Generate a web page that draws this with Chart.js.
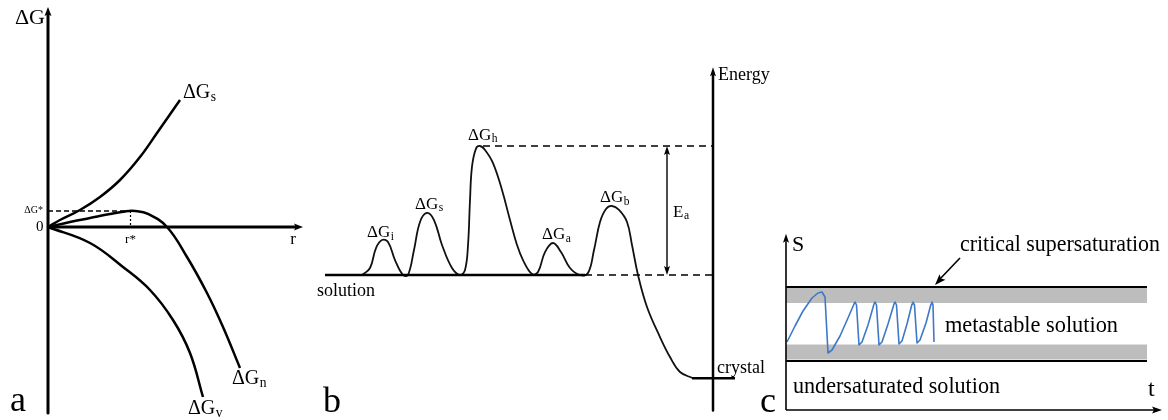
<!DOCTYPE html>
<html><head><meta charset="utf-8">
<script src="https://cdn.jsdelivr.net/npm/chart.js@4"></script>
<style>
html,body{margin:0;padding:0;background:#fff;width:1168px;height:420px;overflow:hidden}
canvas{position:absolute;top:0}
</style></head><body>
<canvas id="ca" width="310" height="420" style="left:0"></canvas>
<canvas id="cb" width="480" height="420" style="left:300px"></canvas>
<canvas id="cc" width="413" height="420" style="left:755px"></canvas>
<script>
// ---------- Panel a: free energy vs radius ----------
const aR_s = [0, 0.48, 1.28, 2.08, 2.88, 3.68, 4.36, 5.28];
const aG_s = [0, 0.35, 0.85, 1.5, 2.35, 3.5, 4.7, 6.35];
const aR_n = [0, 0.88, 1.68, 2.48, 3.08, 3.48, 4.0, 4.76, 5.56, 6.36, 7.0, 7.68];
const aG_n = [0, 0.25, 0.45, 0.65, 0.78, 0.8, 0.66, 0, -1.5, -3.3, -5.0, -7.05];
const aR_v = [0, 1.68, 3.0, 4.08, 5.0, 5.68, 6.2];
const aG_v = [0, -0.8, -2.0, -3.15, -4.65, -6.3, -8.5];
const aCrit = {r: 3.3, g: 0.8};

// ---------- Panel b: energy profile ----------
const bX = [6.2, 7.0, 7.6, 8.2, 8.8, 9.5, 10.3,
  10.8, 11.4, 12.0, 12.7, 13.4, 14.2, 15.2, 16.0,
  16.5, 16.8, 17.0, 17.2, 17.6, 18.0, 18.5, 19.3, 20.2, 21.0, 21.7, 22.3, 23.2,
  23.8, 24.5, 25.3, 26.1, 27.0, 28.0,
  28.8, 29.4, 30.0, 30.6, 31.2, 31.9, 32.7, 33.2, 33.8, 34.7, 36.0, 37.0, 38.0, 39.3];
const bE = [0, 0.54, 2.09, 2.71, 2.56, 1.16, 0,
  0, 1.94, 4.11, 4.81, 4.26, 2.33, 0.54, 0,
  0.39, 2.3, 5.8, 8.4, 9.8, 10.0, 9.69, 8.68, 6.59, 4.26, 2.33, 1.16, 0.08,
  0.23, 1.78, 2.48, 1.78, 0.54, 0,
  0.16, 1.94, 4.11, 5.12, 5.35, 5.04, 4.11, 2.33, 0, -2.48, -4.81, -6.36, -7.52, -8.0];
const bSolution = 0, bTop = 10, bCrystal = -8.0;
const bLabels = ['i', 's', 'h', 'a', 'b'];

// ---------- Panel c: supersaturation vs time ----------
const cT = [0.1, 0.9, 1.7, 2.6, 3.2, 3.6, 3.9, 4.2, 4.6, 5.4, 6.2, 6.8, 6.9, 7.05, 7.3, 7.6, 8.2, 8.8, 8.9, 9.05, 9.3, 9.6,
  10.2, 10.8, 10.9, 11.05, 11.3, 11.6, 12.1, 12.6, 12.7, 12.85, 13.1, 13.4, 14.0, 14.5, 14.6, 14.7, 14.8];
const cS = [2.72, 3.36, 3.96, 4.48, 4.68, 4.72, 4.52, 2.28, 2.4, 2.96, 3.68, 4.24, 4.32, 4.2, 2.6, 2.72, 3.4, 4.24, 4.32, 4.2, 2.6, 2.72,
  3.44, 4.24, 4.32, 4.2, 2.64, 2.76, 3.44, 4.24, 4.32, 4.2, 2.68, 2.8, 3.48, 4.24, 4.32, 4.2, 2.72];
const cCritical = 4.92, cSolubility = 1.96;

// ---------- helpers ----------
const SERIF = '"Liberation Serif","DejaVu Serif",serif';
function pts(xs, ys){ return xs.map((x,i)=>({x:x, y:ys[i]})); }
function line(xs, ys, color, width, opts){
  opts = opts || {};
  return Object.assign({data: pts(xs, ys), showLine:true, borderColor:color, backgroundColor:color,
    borderWidth:width, pointRadius:0, pointHoverRadius:0, fill:false, clip:false, order:0,
    borderDash: opts.dash || [], cubicInterpolationMode: 'default',
    tension: opts.tension || 0, borderCapStyle: 'butt', borderJoinStyle: 'round'}, opts.extra || {});
}
function arrowHead(ctx, x, y, ang, len, w){
  ctx.save(); ctx.translate(x, y); ctx.rotate(ang);
  ctx.beginPath(); ctx.moveTo(0,0); ctx.lineTo(-len, -w/2); ctx.lineTo(-len*0.8, 0); ctx.lineTo(-len, w/2); ctx.closePath();
  ctx.fill(); ctx.restore();
}
function text(ctx, s, x, y, size, align, maxW){
  ctx.font = size + 'px ' + SERIF; ctx.textAlign = align || 'left'; ctx.textBaseline = 'middle';
  if (maxW) ctx.fillText(s, x, y, maxW); else ctx.fillText(s, x, y);
}
function subText(ctx, main, sub, x, y, size, align){
  ctx.font = size + 'px ' + SERIF;
  const w1 = ctx.measureText(main).width;
  ctx.font = (size*0.68) + 'px ' + SERIF;
  const w2 = ctx.measureText(sub).width;
  let x0 = x;
  if (align === 'right') x0 = x - w1 - w2;
  text(ctx, main, x0, y, size);
  text(ctx, sub, x0 + w1 + 0.5, y + size*0.22, size*0.68);
}
function mk(id, xr, yr, datasets, draw){
  return new Chart(document.getElementById(id), {
    type:'line', data:{datasets:datasets},
    options:{responsive:false, animation:false, events:[], devicePixelRatio:1,
      layout:{padding:0},
      plugins:{legend:{display:false}, tooltip:{enabled:false}},
      scales:{x:{type:'linear', display:false, min:xr[0], max:xr[1]},
              y:{type:'linear', display:false, min:yr[0], max:yr[1]}}},
    plugins:[{id:'ann'+id, afterDatasetsDraw(chart){
      const ctx = chart.ctx, sx = chart.scales.x, sy = chart.scales.y;
      ctx.save(); ctx.fillStyle = '#000'; ctx.strokeStyle = '#000';
      draw(ctx, v=>sx.getPixelForValue(v), v=>sy.getPixelForValue(v));
      ctx.restore();
    }}]
  });
}

// ---------- Panel a ----------
mk('ca', [-1.92, 10.48], [-9.65, 11.35], [
  line([0,0], [10.7,-9.3], '#000', 3),
  line([0,10.0], [0,0], '#000', 3),
  line(aR_s, aG_s, '#000', 2.5, {tension:0.4}),
  line(aR_n, aG_n, '#000', 2.5, {tension:0.4}),
  line(aR_v, aG_v, '#000', 2.5, {tension:0.4}),
  line([0, aCrit.r], [aCrit.g, aCrit.g], '#000', 1.6, {dash:[5,3]}),
  line([aCrit.r, aCrit.r], [aCrit.g, 0], '#000', 1.2, {dash:[2,2]})
], (ctx, X, Y)=>{
  arrowHead(ctx, X(0), Y(11.0), -Math.PI/2, 9, 7);
  arrowHead(ctx, X(10.2), Y(0), 0, 9, 7);
  text(ctx, 'ΔG', X(-0.12), Y(10.45), 22, 'right');
  text(ctx, '0', X(-0.18), Y(0), 15, 'right');
  text(ctx, 'ΔG*', X(-0.2), Y(0.85), 10, 'right');
  text(ctx, 'r*', X(aCrit.r), Y(-0.62), 13, 'center');
  text(ctx, 'r', X(9.8), Y(-0.65), 17, 'center');
  subText(ctx, 'ΔG', 's', X(5.4), Y(6.7), 20);
  subText(ctx, 'ΔG', 'n', X(7.36), Y(-7.6), 20);
  subText(ctx, 'ΔG', 'v', X(5.6), Y(-9.1), 20);
  text(ctx, 'a', X(-1.52), Y(-8.75), 36, 'left');
});

// ---------- Panel b ----------
mk('cb', [0, 48], [-11.24, 21.318], [
  line([41.3, 41.3], [15.6, -10.5], '#000', 2.5),
  line([2.5, 28.5], [bSolution, bSolution], '#000', 2.6),
  line([28.5, 41.3], [bSolution, bSolution], '#000', 1.6, {dash:[7,5]}),
  line([18.3, 41.3], [bTop, bTop], '#000', 1.6, {dash:[7,5]}),
  line([39.2, 43.5], [bCrystal, bCrystal], '#000', 2.5),
  line(bX, bE, '#111', 1.8, {tension:0.4}),
  line([36.7, 36.7], [bSolution + 0.5, bTop - 0.5], '#000', 1.4)
], (ctx, X, Y)=>{
  arrowHead(ctx, X(41.3), Y(16.1), -Math.PI/2, 9, 6);
  arrowHead(ctx, X(36.7), Y(bTop), -Math.PI/2, 9, 6);
  arrowHead(ctx, X(36.7), Y(bSolution), Math.PI/2, 9, 6);
  subText(ctx, 'ΔG', bLabels[0], X(6.7), Y(3.26), 17);
  subText(ctx, 'ΔG', bLabels[1], X(11.5), Y(5.5), 17);
  subText(ctx, 'ΔG', bLabels[2], X(16.8), Y(10.85), 17);
  subText(ctx, 'ΔG', bLabels[3], X(24.2), Y(3.1), 17);
  subText(ctx, 'ΔG', bLabels[4], X(30.0), Y(5.97), 17);
  subText(ctx, 'E', 'a', X(37.3), Y(4.88), 17);
  text(ctx, 'solution', X(1.7), Y(-1.24), 18);
  text(ctx, 'Energy', X(41.8), Y(15.5), 18);
  text(ctx, 'crystal', X(41.7), Y(-7.2), 18);
  text(ctx, 'b', X(2.3), Y(-9.9), 36);
});

// ---------- Panel c ----------
mk('cc', [-3.1, 38.2], [-0.4, 16.4], [
  line([0, 36.1], [4.58, 4.58], '#bdbdbd', 15, {extra:{order:10}}),
  line([0, 36.1], [2.32, 2.32], '#bdbdbd', 15, {extra:{order:10}}),
  line([0, 0], [0, 6.75], '#000', 1.6),
  line([0, 37.2], [0, 0], '#000', 1.6),
  line([0, 36.1], [cCritical, cCritical], '#000', 1.8),
  line([0, 36.1], [cSolubility, cSolubility], '#000', 1.8),
  line(cT, cS, '#3f78c8', 1.6),
  line([17.4, 15.3], [6.08, 5.2], '#000', 1.6)
], (ctx, X, Y)=>{
  arrowHead(ctx, X(0), Y(7.05), -Math.PI/2, 9, 6);
  arrowHead(ctx, X(37.6), Y(0), 0, 10, 7);
  arrowHead(ctx, X(14.9), Y(5.0), Math.atan2(Y(5.0)-Y(6.08), X(14.9)-X(17.4)), 11, 8);
  text(ctx, 'S', X(0.6), Y(6.6), 22);
  text(ctx, 'critical supersaturation', X(17.4), Y(6.6), 24, 'left', 200);
  text(ctx, 'metastable solution', X(15.9), Y(3.36), 24, 'left', 173);
  text(ctx, 'undersaturated solution', X(0.7), Y(0.92), 24, 'left', 207);
  text(ctx, 't', X(36.2), Y(0.8), 24);
  text(ctx, 'c', X(-2.6), Y(0.3), 36);
});
</script>
</body></html>
